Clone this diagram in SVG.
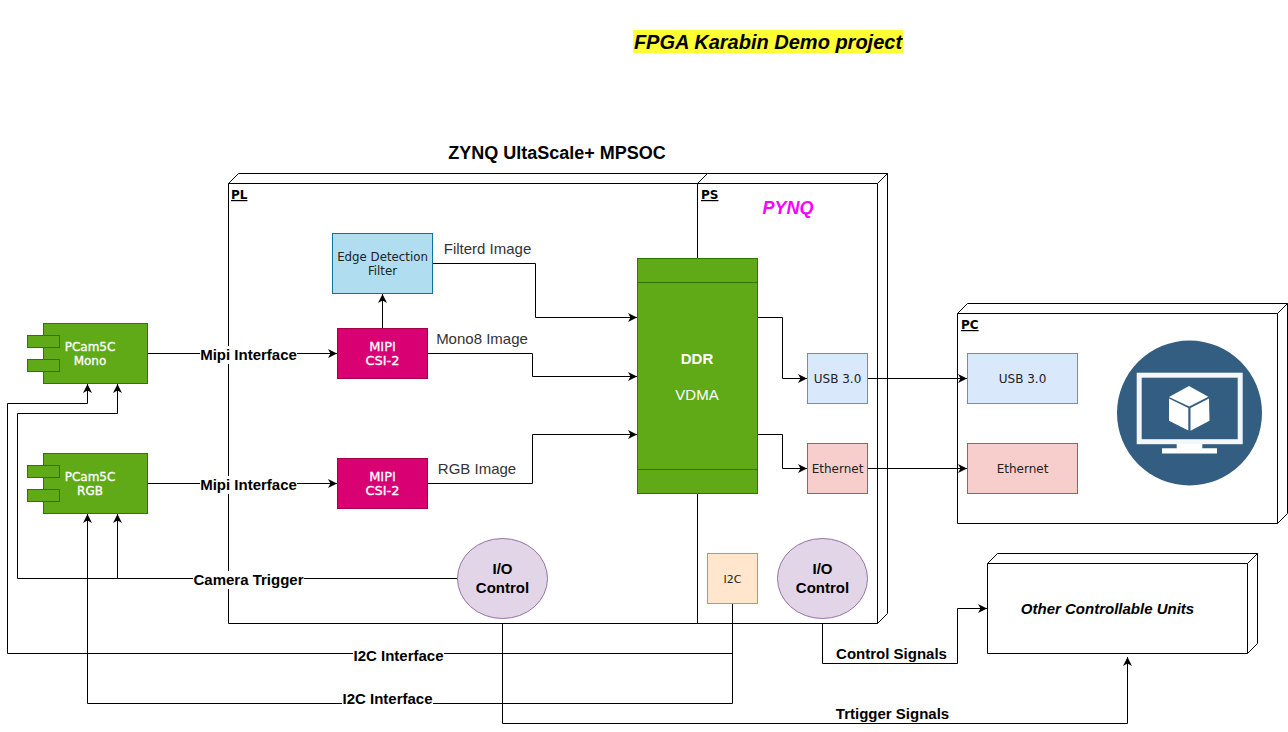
<svg xmlns="http://www.w3.org/2000/svg" width="1288" height="732" viewBox="0 0 1288 732">
<style>
text{font-family:"DejaVu Sans",sans-serif;text-anchor:middle}
.s{font-family:"Liberation Sans",Arial,sans-serif}
.cube{fill:#fff;stroke:#000;stroke-width:1}
.cn{fill:none;stroke:#000;stroke-width:1;marker-end:url(#a)}
.pl{fill:none;stroke:#000;stroke-width:1}
.g{fill:#60a917;stroke:#2d7600;stroke-width:1}
.m{fill:#d80073;stroke:#a50040;stroke-width:1}
.u{fill:#dae8fc;stroke:#6c8ebf}
.r{fill:#f8cecc;stroke:#b85450}
.p{fill:#e1d5e7;stroke:#9673a6}
.lb{font-family:"Liberation Sans",Arial,sans-serif;font-size:15px;font-weight:bold;fill:#000}
.hd{font-size:12px;font-weight:bold;text-decoration:underline;text-anchor:start}
.w{fill:#fff;font-size:12px;stroke:#fff;stroke-width:.3}
.wm{fill:#fff;font-size:13px;stroke:#fff;stroke-width:.3}
.t{font-size:12px;fill:#222}
.io{font-family:"Liberation Sans",Arial,sans-serif;font-size:15px;font-weight:bold}
.bg{fill:#fff}
.gl{font-family:"Liberation Sans",Arial,sans-serif;font-size:15px;fill:#333}
</style>
<defs>
<marker id="a" markerUnits="userSpaceOnUse" markerWidth="12" markerHeight="12" refX="9" refY="6" orient="auto"><path d="M0,1.500 L9,6 L0,10.500 L2.500,6 Z" fill="#000"/></marker>
</defs>
<g id="title"><rect x="633" y="30" width="270" height="23" fill="#ffff33"/><text class="s" x="768" y="49" font-size="20" font-weight="bold" font-style="italic">FPGA Karabin Demo project</text></g>
<text class="s" x="557" y="159" font-size="18" font-weight="bold">ZYNQ UltaScale+ MPSOC</text>
<g id="zynq-pl"><path class="cube" d="M228.500,183.500 L238.500,173.500 H707.500 L697.500,183.500 V623.500 H228.500 Z"/><path class="pl" d="M228.500,183.500 H697.500"/><text class="hd" x="231" y="199">PL</text></g>
<g id="zynq-ps"><path class="cube" d="M697.500,183.500 L707.500,173.500 H887.500 V613.500 L877.500,623.500 H697.500 Z"/><path class="pl" d="M697.500,183.500 H877.500 V623.500 M877.500,183.500 L887.500,173.500"/><text class="hd" x="701" y="199">PS</text><text class="s" x="788" y="214" font-size="18" font-weight="bold" font-style="italic" fill="#ff00ff">PYNQ</text></g>
<g id="pc"><path class="cube" d="M957.500,313.500 L967.500,303.500 H1287.500 V513.500 L1277.500,523.500 H957.500 Z"/><path class="pl" d="M957.500,313.500 H1277.500 V523.500 M1277.500,313.500 L1287.500,303.500"/><text class="hd" x="961" y="329">PC</text></g>
<g id="other"><path class="cube" d="M987.500,563.500 L997.500,553.500 H1257.500 V643.500 L1247.500,653.500 H987.500 Z"/><path class="pl" d="M987.500,563.500 H1247.500 V653.500 M1247.500,563.500 L1257.500,553.500"/><text class="s" x="1107.500" y="614" font-size="15" font-weight="bold" font-style="italic">Other Controllable Units</text></g>
<g id="connectors">
<path class="cn" d="M147.500,353.500 H337"/>
<path class="cn" d="M147.500,483.500 H337"/>
<path class="cn" d="M382.500,328 V294"/>
<path class="cn" d="M432.500,263.500 H535.500 V317.500 H637"/>
<path class="cn" d="M427.500,353.500 H532.500 V376.500 H637"/>
<path class="cn" d="M427.500,483.500 H532.500 V434.500 H637"/>
<path class="cn" d="M757.500,317.500 H782.500 V378.500 H807"/>
<path class="cn" d="M757.500,434.500 H782.500 V468.500 H807"/>
<path class="cn" d="M867.500,378.500 H967"/>
<path class="cn" d="M867.500,468.500 H967"/>
<path class="cn" d="M732.500,603.500 V703.500 H87.500 V514"/>
<path class="cn" d="M732.500,653.500 H7.500 V403.500 H87.500 V384"/>
<path class="cn" d="M457.500,578.500 H17.500 V413.500 H117.500 V384"/>
<path class="cn" d="M117.500,578.500 V514"/>
<path class="cn" d="M502.500,623.500 V723.500 H1127.500 V657"/>
<path class="cn" d="M822.500,623.500 V663.500 H957.500 V608.500 H987"/>
</g>
<g id="labels">
<rect class="bg" x="200" y="346" width="97" height="18"/><text class="lb" x="248.500" y="360">Mipi Interface</text>
<rect class="bg" x="200" y="476" width="97" height="18"/><text class="lb" x="248.500" y="490">Mipi Interface</text>
<rect class="bg" x="193" y="571" width="111" height="18"/><text class="lb" x="248.500" y="585">Camera Trigger</text>
<rect class="bg" x="353" y="647" width="91" height="18"/><text class="lb" x="398.500" y="661">I2C Interface</text>
<rect class="bg" x="342" y="691" width="91" height="18"/><text class="lb" x="387.500" y="704">I2C Interface</text>
<text class="lb" x="891.500" y="659">Control Signals</text>
<text class="lb" x="892.500" y="719">Trtigger Signals</text>
<text class="gl" x="487.500" y="254">Filterd Image</text>
<text class="gl" x="482" y="344">Mono8 Image</text>
<text class="gl" x="477" y="474">RGB Image</text>
</g>
<g id="cam-mono"><rect class="g" x="43.500" y="323.500" width="104" height="60"/><rect class="g" x="27.500" y="335.500" width="32" height="12"/><rect class="g" x="27.500" y="359.500" width="32" height="12"/><text class="w" x="90" y="351">PCam5C</text><text class="w" x="90" y="365">Mono</text></g>
<g id="cam-rgb"><rect class="g" x="43.500" y="453.500" width="104" height="60"/><rect class="g" x="27.500" y="465.500" width="32" height="12"/><rect class="g" x="27.500" y="489.500" width="32" height="12"/><text class="w" x="90" y="481">PCam5C</text><text class="w" x="90" y="495">RGB</text></g>
<g id="edge"><rect x="332.500" y="233.500" width="100" height="60" fill="#b1ddf0" stroke="#10739e"/><text class="t" x="382.500" y="261" style="font-size:11.800px">Edge Detection</text><text class="t" x="382.500" y="275" style="font-size:11.800px">Filter</text></g>
<g id="mipi1"><rect class="m" x="337.500" y="328.500" width="90" height="50"/><text class="wm" x="382.500" y="351">MIPI</text><text class="wm" x="382.500" y="365">CSI-2</text></g>
<g id="mipi2"><rect class="m" x="337.500" y="458.500" width="90" height="50"/><text class="wm" x="382.500" y="481">MIPI</text><text class="wm" x="382.500" y="495">CSI-2</text></g>
<g id="ddr"><rect class="g" x="637.500" y="258.500" width="120" height="235"/><path d="M637.500,282.500 H757.500 M637.500,469.500 H757.500" stroke="#2d7600" fill="none"/><text class="s" x="697" y="364" fill="#fff" font-size="15" font-weight="bold">DDR</text><text class="s" x="697" y="400" fill="#fff" font-size="15">VDMA</text></g>
<g id="usb-ps"><rect class="u" x="807.500" y="353.500" width="60" height="50"/><text class="t" x="837.500" y="383">USB 3.0</text></g>
<g id="eth-ps"><rect class="r" x="807.500" y="443.500" width="60" height="50"/><text class="t" x="837.500" y="473">Ethernet</text></g>
<g id="usb-pc"><rect class="u" x="967.500" y="353.500" width="110" height="50"/><text class="t" x="1022.500" y="383">USB 3.0</text></g>
<g id="eth-pc"><rect class="r" x="967.500" y="443.500" width="110" height="50"/><text class="t" x="1022.500" y="473">Ethernet</text></g>
<g id="i2c"><rect x="707.500" y="553.500" width="50" height="50" fill="#ffe6cc" stroke="#d79b00"/><text class="t" x="732.500" y="583" style="font-size:11px">I2C</text></g>
<g id="io1"><ellipse class="p" cx="502.500" cy="578.500" rx="45" ry="40"/><text class="io" x="502.500" y="574">I/O</text><text class="io" x="502.500" y="593">Control</text></g>
<g id="io2"><ellipse class="p" cx="822.500" cy="578.500" rx="45" ry="40"/><text class="io" x="822.500" y="574">I/O</text><text class="io" x="822.500" y="593">Control</text></g>
<g id="vm-icon"><circle cx="1189.500" cy="413" r="72.500" fill="#335d81"/><rect x="1139.200" y="375.200" width="101" height="66.500" fill="none" stroke="#fff" stroke-width="5" opacity="0.95"/><path d="M1176.700,444 H1202.300 V448.300 H1217 V453.500 H1162 V448.300 H1176.700 Z" fill="#fff"/><path d="M1189,386 L1208.300,396.700 L1189.300,406.500 L1169,397 Z" fill="#fff"/><path d="M1169,398.500 L1188.300,408 V430.500 L1169,420.700 Z" fill="#fff"/><path d="M1190.500,408 L1209,398.500 L1209.500,420.700 L1190.500,430.700 Z" fill="#fff"/></g>
</svg>
